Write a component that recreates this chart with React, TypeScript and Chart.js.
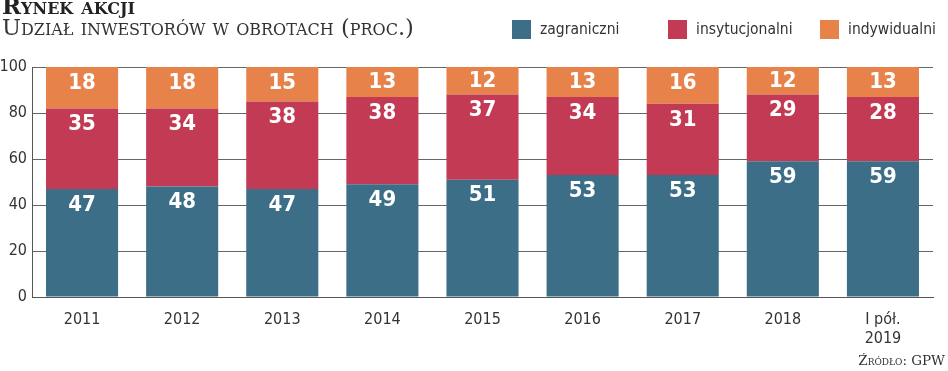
import React, { useEffect, useRef } from "react";
import { Chart, registerables } from "chart.js";

Chart.register(...registerables);

const categories: (string | string[])[] = ["2011", "2012", "2013", "2014", "2015", "2016", "2017", "2018", ["I pół.", "2019"]];
const zagraniczni = [47, 48, 47, 49, 51, 53, 53, 59, 59];
const instytucjonalni = [35, 34, 38, 38, 37, 34, 31, 29, 28];
const indywidualni = [18, 18, 15, 13, 12, 13, 16, 12, 13];
const yTicks = [0, 20, 40, 60, 80, 100];

const seriesNames = ["zagraniczni", "insytucjonalni", "indywidualni"];
const colors = ["#3c6f87", "#c23a53", "#e7834a"];

const FONT = "'DejaVu Sans Condensed', 'DejaVu Sans', sans-serif";
const SERIF = "'DejaVu Serif', 'Liberation Serif', serif";

const labelPlugin = {
  id: "segLabels",
  afterDatasetsDraw(chart: any) {
    const ctx = chart.ctx;
    ctx.save();
    ctx.fillStyle = "#ffffff";
    ctx.font = `bold 22px ${FONT}`;
    ctx.textAlign = "center";
    ctx.textBaseline = "middle";
    chart.data.datasets.forEach((ds: any, di: number) => {
      const meta = chart.getDatasetMeta(di);
      meta.data.forEach((bar: any, i: number) => {
        const p = bar.getProps(["x", "y", "base"], true);
        const top = Math.min(p.y, p.base);
        const h = Math.abs(p.base - p.y);
        const off = Math.min(16, h / 2);
        ctx.fillText(String(ds.data[i]), p.x, top + off);
      });
    });
    ctx.restore();
  },
};

export default function App() {
  const ref = useRef<HTMLCanvasElement | null>(null);
  useEffect(() => {
    document.body.style.margin = "0";
    const chart = new Chart(ref.current as HTMLCanvasElement, {
      type: "bar",
      data: {
        labels: categories,
        datasets: [zagraniczni, instytucjonalni, indywidualni].map((d, i) => ({
          label: seriesNames[i],
          data: d,
          backgroundColor: colors[i],
          borderWidth: 0,
          barPercentage: 0.72,
          categoryPercentage: 1,
        })),
      },
      options: {
        animation: false,
        responsive: false,
        maintainAspectRatio: false,
        layout: { padding: { top: 67, right: 15, left: 0, bottom: 0 } },
        plugins: { legend: { display: false }, tooltip: { enabled: false }, title: { display: false } },
        scales: {
          x: {
            stacked: true,
            grid: { display: false, drawTicks: false },
            border: { display: true, color: "#555", width: 1 },
            ticks: { color: "#333", font: { family: FONT, size: 16 }, padding: 13, maxRotation: 0, autoSkip: false },
            afterFit: (s: any) => { s.height = 74; },
          },
          y: {
            stacked: true,
            min: 0,
            max: 100,
            afterBuildTicks: (s: any) => { s.ticks = yTicks.map((v) => ({ value: v })); },
            grid: { color: "#666", lineWidth: 1, drawTicks: false },
            border: { display: true, color: "#555", width: 1 },
            ticks: { color: "#333", font: { family: FONT, size: 16 }, padding: 5 },
            afterFit: (s: any) => { s.width = 32; },
          },
        },
      },
      plugins: [labelPlugin],
    });
    return () => chart.destroy();
  }, []);

  const legendItem = (i: number, left: number) => (
    <div key={i} style={{ position: "absolute", left, top: 20, display: "flex", alignItems: "center", height: 19 }}>
      <div style={{ width: 19, height: 19, background: colors[i], marginRight: 9 }} />
      <span style={{ fontFamily: FONT, fontSize: 15.5, color: "#333", lineHeight: "19px" }}>{seriesNames[i]}</span>
    </div>
  );

  return (
    <div style={{ position: "fixed", left: 0, top: 0, width: 948, height: 371, background: "#fff", overflow: "hidden" }}>
      <canvas ref={ref} width={948} height={371} style={{ position: "absolute", left: 0, top: 0 }} />
      <div style={{ position: "absolute", left: 2, top: -8, fontFamily: SERIF, fontWeight: "bold", fontVariant: "small-caps", fontSize: 23, color: "#222", whiteSpace: "nowrap" }}>
        Rynek akcji
      </div>
      <div style={{ position: "absolute", left: 2, top: 14, fontFamily: SERIF, fontVariant: "small-caps", fontSize: 22.5, color: "#333", whiteSpace: "nowrap" }}>
        Udział inwestorów w obrotach (proc.)
      </div>
      {legendItem(0, 512)}
      {legendItem(1, 668)}
      {legendItem(2, 820)}
      <div style={{ position: "absolute", right: 3, top: 352, fontFamily: SERIF, fontVariant: "small-caps", fontSize: 13.5, color: "#333", whiteSpace: "nowrap" }}>
        Źródło: GPW
      </div>
    </div>
  );
}
